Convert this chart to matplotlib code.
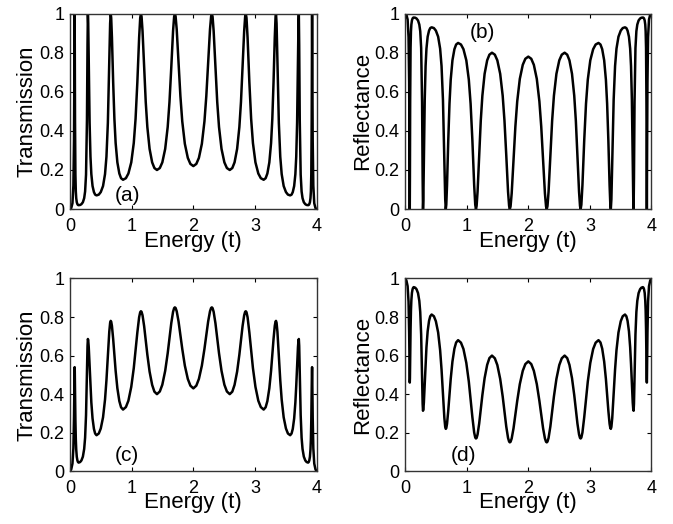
import matplotlib
matplotlib.use('Agg')
import matplotlib.pyplot as plt

plt.rcParams['font.family'] = ['Liberation Sans', 'DejaVu Sans']

# Energy grid (units of t), shared by all four panels.
# One row per stretch between neighbouring resonances.
energy = [
    0.0, 0.02, 0.04, 0.055, 0.065, 0.07, 0.0735,
    0.075,
    0.0776, 0.0815, 0.088, 0.0945, 0.101, 0.1101, 0.1205, 0.1296, 0.14,
    0.164, 0.185, 0.209, 0.23, 0.245, 0.26, 0.275, 0.284,
    0.29,
    0.2956, 0.304, 0.318, 0.332, 0.346, 0.3656, 0.388, 0.4076, 0.43,
    0.4668, 0.499, 0.5358, 0.568, 0.591, 0.614, 0.637, 0.6508,
    0.66,
    0.668, 0.68, 0.70, 0.72, 0.74, 0.768, 0.80, 0.828, 0.86,
    0.9064, 0.947, 0.9934, 1.034, 1.063, 1.092, 1.121, 1.1384,
    1.15,
    1.1604, 1.176, 1.202, 1.228, 1.254, 1.2904, 1.332, 1.3684, 1.41,
    1.4564, 1.497, 1.5434, 1.584, 1.613, 1.642, 1.671, 1.6884,
    1.70,
    1.712, 1.73, 1.76, 1.79, 1.82, 1.862, 1.91, 1.952, 2.00,
    2.048, 2.09, 2.138, 2.18, 2.21, 2.24, 2.27, 2.288,
    2.30,
    2.3116, 2.329, 2.358, 2.387, 2.416, 2.4566, 2.503, 2.5436, 2.59,
    2.6316, 2.668, 2.7096, 2.746, 2.772, 2.798, 2.824, 2.8396,
    2.85,
    2.8616, 2.879, 2.908, 2.937, 2.966, 3.0066, 3.053, 3.0936, 3.14,
    3.172, 3.20, 3.232, 3.26, 3.28, 3.30, 3.32, 3.332,
    3.34,
    3.3492, 3.363, 3.386, 3.409, 3.432, 3.4642, 3.501, 3.5332, 3.57,
    3.5924, 3.612, 3.6344, 3.654, 3.668, 3.682, 3.696, 3.7044,
    3.71,
    3.716, 3.725, 3.74, 3.755, 3.77, 3.791, 3.815, 3.836, 3.86,
    3.8704, 3.8795, 3.8899, 3.899, 3.9055, 3.912, 3.9185, 3.9224,
    3.925,
    3.9265, 3.93, 3.935, 3.945, 3.96, 3.98, 4.0,
]

# (a) transmission
trans_a = [
    0.0, 0.005, 0.03, 0.12, 0.35, 0.65, 0.92,
    1.0,
    0.838, 0.455, 0.176, 0.090, 0.056, 0.035, 0.025, 0.021, 0.02,
    0.021, 0.025, 0.035, 0.056, 0.090, 0.176, 0.455, 0.838,
    1.0,
    0.950, 0.755, 0.441, 0.268, 0.179, 0.118, 0.087, 0.074, 0.07,
    0.074, 0.087, 0.118, 0.179, 0.268, 0.441, 0.755, 0.950,
    1.0,
    0.978, 0.878, 0.649, 0.461, 0.338, 0.239, 0.182, 0.158, 0.15,
    0.158, 0.182, 0.239, 0.338, 0.461, 0.649, 0.878, 0.978,
    1.0,
    0.984, 0.911, 0.724, 0.548, 0.420, 0.308, 0.239, 0.210, 0.20,
    0.210, 0.239, 0.308, 0.420, 0.548, 0.724, 0.911, 0.984,
    1.0,
    0.986, 0.920, 0.747, 0.578, 0.449, 0.334, 0.262, 0.231, 0.22,
    0.231, 0.262, 0.334, 0.449, 0.578, 0.747, 0.920, 0.986,
    1.0,
    0.984, 0.911, 0.724, 0.548, 0.420, 0.308, 0.239, 0.210, 0.20,
    0.210, 0.239, 0.308, 0.420, 0.548, 0.724, 0.911, 0.984,
    1.0,
    0.978, 0.878, 0.649, 0.461, 0.338, 0.239, 0.182, 0.158, 0.15,
    0.158, 0.182, 0.239, 0.338, 0.461, 0.649, 0.878, 0.978,
    1.0,
    0.950, 0.755, 0.441, 0.268, 0.179, 0.118, 0.087, 0.074, 0.07,
    0.074, 0.087, 0.118, 0.179, 0.268, 0.441, 0.755, 0.950,
    1.0,
    0.838, 0.455, 0.176, 0.090, 0.056, 0.035, 0.025, 0.021, 0.02,
    0.021, 0.025, 0.035, 0.056, 0.090, 0.176, 0.455, 0.838,
    1.0,
    0.92, 0.65, 0.35, 0.12, 0.03, 0.005, 0.0,
]

# (b) reflectance
refl_b = [
    1.0, 0.995, 0.97, 0.88, 0.65, 0.35, 0.08,
    0.0,
    0.162, 0.545, 0.824, 0.910, 0.944, 0.965, 0.975, 0.979, 0.98,
    0.979, 0.975, 0.965, 0.944, 0.910, 0.824, 0.545, 0.162,
    0.0,
    0.050, 0.245, 0.559, 0.732, 0.821, 0.882, 0.913, 0.926, 0.93,
    0.926, 0.913, 0.882, 0.821, 0.732, 0.559, 0.245, 0.050,
    0.0,
    0.022, 0.122, 0.351, 0.539, 0.662, 0.761, 0.818, 0.842, 0.85,
    0.842, 0.818, 0.761, 0.662, 0.539, 0.351, 0.122, 0.022,
    0.0,
    0.016, 0.089, 0.276, 0.452, 0.580, 0.692, 0.761, 0.790, 0.80,
    0.790, 0.761, 0.692, 0.580, 0.452, 0.276, 0.089, 0.016,
    0.0,
    0.014, 0.080, 0.253, 0.422, 0.551, 0.666, 0.738, 0.769, 0.78,
    0.769, 0.738, 0.666, 0.551, 0.422, 0.253, 0.080, 0.014,
    0.0,
    0.016, 0.089, 0.276, 0.452, 0.580, 0.692, 0.761, 0.790, 0.80,
    0.790, 0.761, 0.692, 0.580, 0.452, 0.276, 0.089, 0.016,
    0.0,
    0.022, 0.122, 0.351, 0.539, 0.662, 0.761, 0.818, 0.842, 0.85,
    0.842, 0.818, 0.761, 0.662, 0.539, 0.351, 0.122, 0.022,
    0.0,
    0.050, 0.245, 0.559, 0.732, 0.821, 0.882, 0.913, 0.926, 0.93,
    0.926, 0.913, 0.882, 0.821, 0.732, 0.559, 0.245, 0.050,
    0.0,
    0.162, 0.545, 0.824, 0.910, 0.944, 0.965, 0.975, 0.979, 0.98,
    0.979, 0.975, 0.965, 0.944, 0.910, 0.824, 0.545, 0.162,
    0.0,
    0.08, 0.35, 0.65, 0.88, 0.97, 0.995, 1.0,
]

# (c) transmission
trans_c = [
    0.0, 0.01, 0.04, 0.12, 0.28, 0.42, 0.52,
    0.54,
    0.518, 0.426, 0.263, 0.165, 0.113, 0.075, 0.056, 0.048, 0.045,
    0.048, 0.056, 0.076, 0.116, 0.174, 0.291, 0.509, 0.650,
    0.686,
    0.679, 0.644, 0.547, 0.443, 0.357, 0.274, 0.220, 0.196, 0.187,
    0.196, 0.222, 0.280, 0.372, 0.472, 0.599, 0.724, 0.770,
    0.78,
    0.776, 0.754, 0.686, 0.602, 0.521, 0.431, 0.364, 0.332, 0.32,
    0.333, 0.366, 0.438, 0.535, 0.625, 0.720, 0.799, 0.825,
    0.83,
    0.827, 0.809, 0.753, 0.679, 0.605, 0.517, 0.448, 0.413, 0.40,
    0.414, 0.449, 0.521, 0.612, 0.690, 0.768, 0.827, 0.846,
    0.85,
    0.847, 0.830, 0.777, 0.708, 0.635, 0.548, 0.479, 0.444, 0.43,
    0.444, 0.479, 0.548, 0.635, 0.708, 0.777, 0.830, 0.847,
    0.85,
    0.846, 0.827, 0.768, 0.690, 0.612, 0.521, 0.449, 0.414, 0.40,
    0.413, 0.448, 0.517, 0.605, 0.679, 0.753, 0.809, 0.827,
    0.83,
    0.825, 0.799, 0.720, 0.625, 0.535, 0.438, 0.366, 0.333, 0.32,
    0.332, 0.364, 0.431, 0.521, 0.602, 0.686, 0.754, 0.776,
    0.78,
    0.770, 0.724, 0.599, 0.472, 0.372, 0.280, 0.222, 0.196, 0.187,
    0.196, 0.220, 0.274, 0.357, 0.443, 0.547, 0.644, 0.679,
    0.686,
    0.650, 0.509, 0.291, 0.174, 0.116, 0.076, 0.056, 0.048, 0.045,
    0.048, 0.056, 0.075, 0.113, 0.165, 0.263, 0.426, 0.518,
    0.54,
    0.52, 0.42, 0.28, 0.12, 0.04, 0.01, 0.0,
]

# (d) reflectance
refl_d = [
    1.0, 0.99, 0.96, 0.88, 0.72, 0.58, 0.48,
    0.46,
    0.482, 0.574, 0.737, 0.835, 0.887, 0.925, 0.944, 0.952, 0.955,
    0.952, 0.944, 0.924, 0.884, 0.826, 0.709, 0.491, 0.350,
    0.314,
    0.321, 0.356, 0.453, 0.557, 0.643, 0.726, 0.780, 0.804, 0.813,
    0.804, 0.778, 0.720, 0.628, 0.528, 0.401, 0.276, 0.230,
    0.22,
    0.224, 0.246, 0.314, 0.398, 0.479, 0.569, 0.636, 0.668, 0.68,
    0.667, 0.634, 0.562, 0.465, 0.375, 0.280, 0.201, 0.175,
    0.17,
    0.173, 0.191, 0.247, 0.321, 0.395, 0.483, 0.552, 0.587, 0.60,
    0.586, 0.551, 0.479, 0.388, 0.310, 0.232, 0.173, 0.154,
    0.15,
    0.153, 0.170, 0.223, 0.292, 0.365, 0.452, 0.521, 0.556, 0.57,
    0.556, 0.521, 0.452, 0.365, 0.292, 0.223, 0.170, 0.153,
    0.15,
    0.154, 0.173, 0.232, 0.310, 0.388, 0.479, 0.551, 0.586, 0.60,
    0.587, 0.552, 0.483, 0.395, 0.321, 0.247, 0.191, 0.173,
    0.17,
    0.175, 0.201, 0.280, 0.375, 0.465, 0.562, 0.634, 0.667, 0.68,
    0.668, 0.636, 0.569, 0.479, 0.398, 0.314, 0.246, 0.224,
    0.22,
    0.230, 0.276, 0.401, 0.528, 0.628, 0.720, 0.778, 0.804, 0.813,
    0.804, 0.780, 0.726, 0.643, 0.557, 0.453, 0.356, 0.321,
    0.314,
    0.350, 0.491, 0.709, 0.826, 0.884, 0.924, 0.944, 0.952, 0.955,
    0.952, 0.944, 0.925, 0.887, 0.835, 0.737, 0.574, 0.482,
    0.46,
    0.48, 0.58, 0.72, 0.88, 0.96, 0.99, 1.0,
]

x_ticks = [0, 1, 2, 3, 4]
y_ticks = [0, 0.2, 0.4, 0.6, 0.8, 1]
y_tick_labels = ['0', '0.2', '0.4', '0.6', '0.8', '1']

panels = [
    # values, y label, tag, tag position, axes rect
    (trans_a, 'Transmission', '(a)', (0.93, 0.07), [0.104, 0.601, 0.3666, 0.373]),
    (refl_b, 'Reflectance', '(b)', (1.25, 0.905), [0.602, 0.601, 0.366, 0.373]),
    (trans_c, 'Transmission', '(c)', (0.92, 0.08), [0.104, 0.1006, 0.3666, 0.368]),
    (refl_d, 'Reflectance', '(d)', (0.94, 0.08), [0.602, 0.1006, 0.366, 0.368]),
]

fig = plt.figure(figsize=(6.73, 5.24), dpi=100)

for values, ylabel, tag, tag_xy, rect in panels:
    ax = fig.add_axes(rect)
    ax.plot(energy, values, color='black', lw=1.8, solid_joinstyle='round')
    ax.set_xlim(0, 4)
    ax.set_ylim(0, 1)
    ax.set_xticks(x_ticks)
    ax.set_xticklabels([str(t) for t in x_ticks])
    ax.set_yticks(y_ticks)
    ax.set_yticklabels(y_tick_labels)
    ax.tick_params(direction='in', top=True, right=True, length=3, width=0.8,
                   labelsize=13)
    ax.tick_params(axis='x', pad=6.5)
    ax.tick_params(axis='y', pad=4)
    for spine in ax.spines.values():
        spine.set_linewidth(1.0)
        spine.set_color('#333333')
    ax.set_xlabel('Energy (t)', fontsize=16)
    ax.set_ylabel(ylabel, fontsize=16)
    ax.xaxis.set_label_coords(0.5, -0.11)
    ax.yaxis.set_label_coords(-0.131, 0.5)
    ax.text(tag_xy[0], tag_xy[1], tag, fontsize=15, ha='center', va='center')

fig.savefig('out.png', dpi=100)
